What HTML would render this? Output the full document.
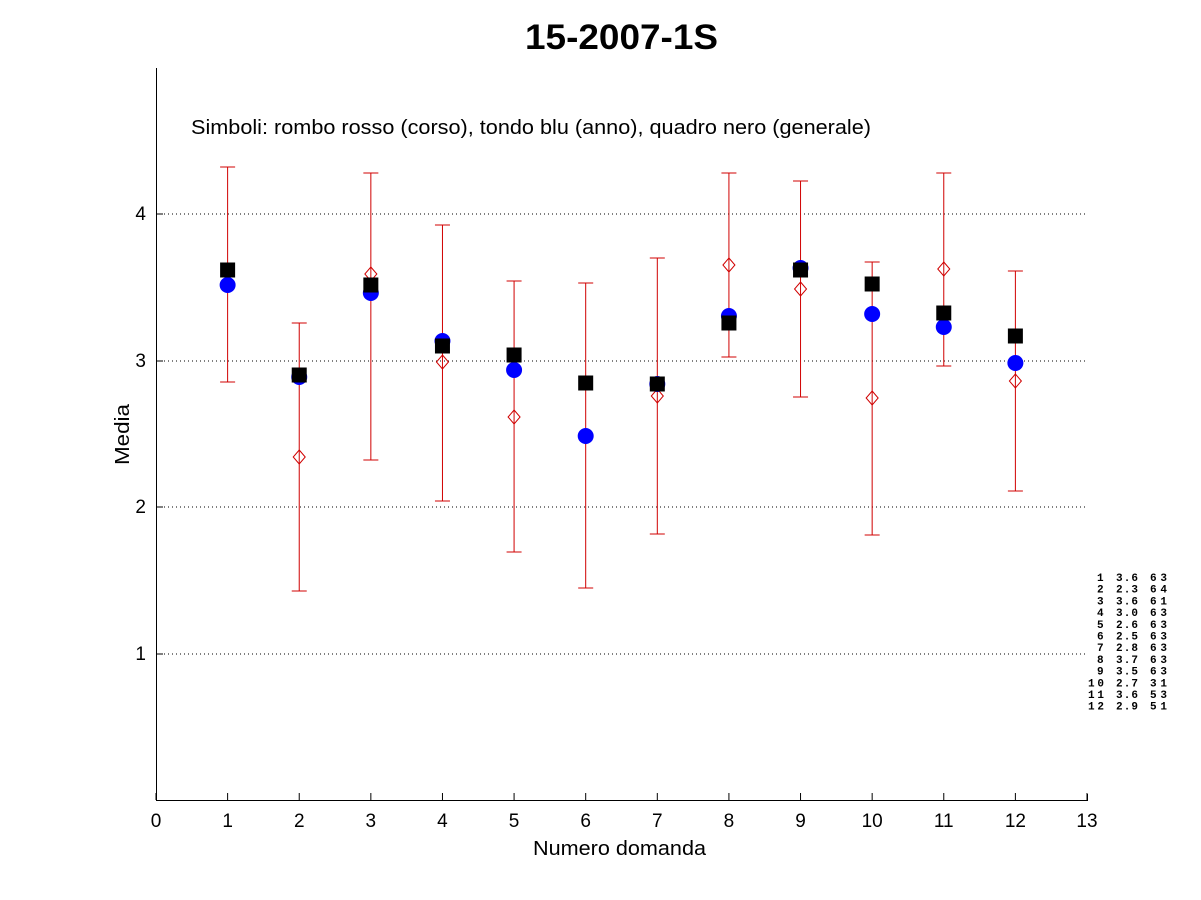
<!DOCTYPE html>
<html><head><meta charset="utf-8"><style>body{margin:0;background:#fff}svg{display:block}</style></head>
<body>
<svg id="s" width="1201" height="900" xmlns="http://www.w3.org/2000/svg" font-family="Liberation Sans, sans-serif">
<rect width="1201" height="900" fill="#fff"/>
<text x="525" y="49" font-size="35" font-weight="bold" textLength="193" lengthAdjust="spacingAndGlyphs">15-2007-1S</text>
<g stroke="#000" stroke-width="1" stroke-dasharray="1,3">
<line x1="156" x2="1087" y1="214" y2="214"/><line x1="156" x2="1087" y1="361" y2="361"/>
<line x1="156" x2="1087" y1="507" y2="507"/><line x1="156" x2="1087" y1="654" y2="654"/>
</g>
<g stroke="#000" stroke-width="1" fill="none"><polyline points="156.5,68 156.5,800.5 1087.5,800.5 1087.5,794"/></g>
<g id="ticks" stroke="#000"></g>
<g id="tl" font-size="19" text-anchor="middle"></g>
<g font-size="19" text-anchor="end">
<text x="146" y="220">4</text><text x="146" y="367">3</text><text x="146" y="513">2</text><text x="146" y="660">1</text></g>
<g stroke="#000"><line x1="156" x2="163" y1="214" y2="214"/><line x1="156" x2="163" y1="361" y2="361"/><line x1="156" x2="163" y1="507" y2="507"/><line x1="156" x2="163" y1="654" y2="654"/></g>
<text x="533" y="855" font-size="20" textLength="173" lengthAdjust="spacingAndGlyphs">Numero domanda</text>
<text transform="translate(129,465) rotate(-90)" font-size="20" textLength="61" lengthAdjust="spacingAndGlyphs">Media</text>
<text x="191" y="134" font-size="20" textLength="680" lengthAdjust="spacingAndGlyphs">Simboli: rombo rosso (corso), tondo blu (anno), quadro nero (generale)</text>
<g id="d"></g>
<g id="tab" font-family="Liberation Mono, monospace" font-size="11" font-weight="bold"></g>
</svg>
<script>
var ns="http://www.w3.org/2000/svg";
function el(p,t,a,txt){var e=document.createElementNS(ns,t);for(var k in a)e.setAttribute(k,a[k]);if(txt!=null)e.textContent=txt;document.getElementById(p).appendChild(e);}
function X(i){return 156+i*931/13;}
for(var i=0;i<=13;i++){var x=X(i);el('ticks','line',{x1:x,x2:x,y1:800,y2:793});el('tl','text',{x:x,y:827},String(i));}
var D=[[167,382,285,270,272],[323,591,377,375,457],[173,460,293,285,274],[225,501,341,346,362],[281,552,370,355,417],[283,588,436,383,437],[258,534,384,384,396],[173,357,316,323,265],[181,397,268,270,289],[262,535,314,284,398],[173,366,327,313,269],[271,491,363,336,381]];
D.forEach(function(d,k){var x=X(k+1);
el('d','line',{x1:x,x2:x,y1:d[0],y2:d[1],stroke:'#d00000','stroke-width':1});
el('d','line',{x1:x-7.5,x2:x+7.5,y1:d[0],y2:d[0],stroke:'#d00000'});
el('d','line',{x1:x-7.5,x2:x+7.5,y1:d[1],y2:d[1],stroke:'#d00000'});
el('d','polygon',{points:(x)+','+(d[4]-7)+' '+(x+6)+','+d[4]+' '+x+','+(d[4]+7)+' '+(x-6)+','+d[4],fill:'none',stroke:'#d00000'});
el('d','circle',{cx:x,cy:d[2],r:8,fill:'#0000ff'});
el('d','rect',{x:x-7.5,y:d[3]-7.5,width:15,height:15,fill:'#000'});
});
var T=[["1","3.6","63"],["2","2.3","64"],["3","3.6","61"],["4","3.0","63"],["5","2.6","63"],["6","2.5","63"],["7","2.8","63"],["8","3.7","63"],["9","3.5","63"],["10","2.7","31"],["11","3.6","53"],["12","2.9","51"]];
T.forEach(function(r,k){var y=581+k*11.7;
if(r[0].length<2) el('tab','text',{x:1097,y:y,textLength:7,lengthAdjust:'spacing'},r[0]);
else el('tab','text',{x:1088,y:y,textLength:16,lengthAdjust:'spacing'},r[0]);
el('tab','text',{x:1116,y:y,textLength:22,lengthAdjust:'spacing'},r[1]);
el('tab','text',{x:1150,y:y,textLength:17,lengthAdjust:'spacing'},r[2]);});
</script>
</body></html>
